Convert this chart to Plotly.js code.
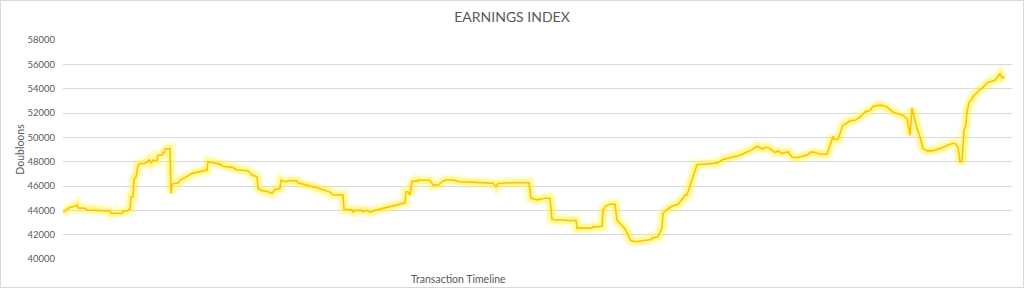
<!DOCTYPE html>
<html>
<head>
<meta charset="utf-8">
<script src="https://cdn.plot.ly/plotly-3.0.1.min.js"></script>
<style>
  html, body { margin: 0; padding: 0; background: #ffffff; }
  #wrap { position: relative; width: 1024px; height: 288px; }
  #chart { width: 1024px; height: 288px; }
  #frame { position: absolute; left: 0; top: 0; width: 1024px; height: 288px; box-sizing: border-box; border: 1px solid #d9d9d9; pointer-events: none; }
</style>
</head>
<body>
<div id="wrap"><div id="chart"></div><div id="frame"></div></div>
<script>
// Transaction sequence numbers (timeline) and index values
const transactions = [
  0,3,7,12,14,15,22,24,34,47,48,59,60,65,66,67,68,70,71,73,74,75,77,82,84,85,86,88,90,94,95,99,100,101,102,105,107,108,109,114,115,117,122,129,135,144,145,152,157,160,169,174,185,189,194,195,199,205,209,212,217,218,222,227,234,235,240,247,254,260,267,270,280,281,289,290,292,299,300,304,307,314,324,334,342,343,345,347,349,352,355,355,364,367,370,375,380,383,390,397,412,430,433,435,447,466,468,474,482,487,489,492,500,504,513,514,529,530,537,539,540,541,543,547,552,554,555,560,562,565,567,570,574,587,590,595,599,600,604,607,610,615,620,622,624,633,634,637,650,654,660,664,670,677,684,689,694,697,700,702,705,709,712,715,719,722,725,729,730,734,744,747,750,755,759,764,770,771,775,779,780,784,787,792,797,802,807,810,814,819,824,827,830,835,840,844,847,849,850,853,854,857,860,864,870,877,884,889,892,895,897,899,901,902,903,904,906,909,910,913,917,920,925,929,932,937,939,940,942,945,949
];
const earnings = [
  43850,44000,44250,44330,44450,44200,44170,44030,44000,43950,43760,43760,43930,43980,44080,44080,45120,45120,46540,46760,47100,47710,47850,47850,48000,48000,48180,47900,48130,48080,48530,48530,48720,48720,49020,49080,49080,45400,46160,46250,46220,46490,46690,47040,47170,47310,47990,47900,47800,47630,47530,47310,47260,46900,46760,45810,45620,45530,45400,45720,45810,46490,46350,46450,46430,46270,46180,46000,45860,45680,45500,45260,45260,44090,44040,43850,44000,44000,43880,44000,43850,44040,44230,44440,44620,45530,45530,45260,46350,46400,46400,46490,46450,46450,46080,46080,46400,46490,46490,46350,46300,46220,45940,46200,46270,46270,44990,44860,44990,44990,43270,43210,43210,43170,43170,42540,42540,42620,42670,42680,44000,44170,44370,44500,44500,43170,43100,42670,42490,41990,41580,41440,41440,41580,41720,41850,42540,43760,44030,44250,44370,44500,44990,45260,45260,47710,47770,47770,47880,47880,48180,48260,48400,48530,48800,48990,49270,49170,49040,49170,49170,48940,48750,48880,48670,48750,48800,48400,48340,48340,48530,48750,48800,48670,48610,48610,50090,49820,49820,50800,50990,51180,51360,51400,51670,52080,52220,52540,52630,52630,52490,52270,52080,51940,51800,51540,50170,52400,52080,51260,50720,50040,49080,48890,48900,49080,49350,49490,49490,49200,48000,48000,50640,50720,51120,52080,52900,53120,53360,53630,53910,54130,54530,54610,54700,55220,54890,54950,54890
];
const yTicks = [40000,42000,44000,46000,48000,50000,52000,54000,56000,58000];

const FONT = 'Lato, "Open Sans", "Liberation Sans", sans-serif';
const TXT = '#595959';

const traces = [
  { x: transactions, y: earnings, type: 'scatter', mode: 'lines', hoverinfo: 'skip', showlegend: false,
    line: { color: 'rgba(255,245,60,0.22)', width: 12, shape: 'linear' } },
  { x: transactions, y: earnings, type: 'scatter', mode: 'lines', hoverinfo: 'skip', showlegend: false,
    line: { color: 'rgba(255,240,40,0.35)', width: 7, shape: 'linear' } },
  { x: transactions, y: earnings, type: 'scatter', mode: 'lines', name: 'Earnings', showlegend: false,
    line: { color: '#FFC000', width: 1.6, shape: 'linear' } }
];

const layout = {
  width: 1024, height: 288,
  margin: { l: 63, r: 12, t: 40, b: 29, pad: 0 },
  paper_bgcolor: '#ffffff', plot_bgcolor: '#ffffff',
  font: { family: FONT, color: TXT, size: 10 },
  title: { text: 'EARNINGS INDEX', font: { family: FONT, size: 14, color: TXT },
           x: 0.5, xref: 'container', xanchor: 'center', y: 1 - 17/288, yref: 'container', yanchor: 'middle' },
  xaxis: { range: [0, 949], showticklabels: false, ticks: '', showgrid: false, zeroline: false,
           showline: false, fixedrange: true },
  yaxis: { range: [40000, 58000], tickvals: yTicks, ticktext: yTicks.map(String), ticks: '',
           showgrid: true, gridcolor: '#d9d9d9', gridwidth: 1, zeroline: false, showline: false,
           tickfont: { family: FONT, size: 9.5, color: TXT }, ticklabelstandoff: 7,
           title: { text: 'Doubloons', font: { family: FONT, size: 10.5, color: TXT }, standoff: 0 } },
  annotations: [
    { text: 'Transaction Timeline', xref: 'paper', yref: 'paper', x: (458-63)/949, y: (259-279)/219,
      xanchor: 'center', yanchor: 'middle', showarrow: false, font: { family: FONT, size: 10.5, color: TXT } }
  ]
};

Plotly.newPlot('chart', traces, layout, { displayModeBar: false, staticPlot: true });
</script>
</body>
</html>
